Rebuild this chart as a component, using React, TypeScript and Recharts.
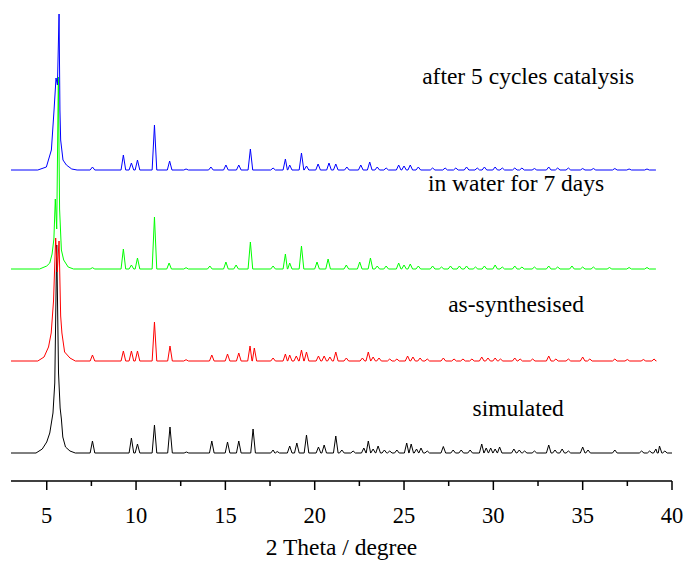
import React from 'react';
import { LineChart, Line, XAxis, YAxis, ReferenceDot } from 'recharts';

const SERIF = 'Liberation Serif';

// vertical offsets of each pattern (stacked plot)
const offsets = { simulated: 28, synth: 120, water: 212, cycles: 311 };
const traceEnd = { simulated: 40, synth: 39.1, water: 39.1, cycles: 39.1 };

// main low-angle reflection, [2theta, intensity]
const simulatedMain = [[4.4, 0], [4.75, 4], [5.0, 11], [5.17, 20], [5.35, 40], [5.45, 70], [5.56, 208], [5.66, 80], [5.75, 45], [5.82, 34], [5.9, 16], [6.05, 6], [6.3, 2], [6.6, 0]];
const synthMain = [[4.5, 0], [4.85, 4], [5.1, 14], [5.25, 28], [5.38, 60], [5.5, 123], [5.59, 89], [5.69, 120], [5.78, 45], [5.85, 28], [6.0, 9], [6.3, 3], [6.6, 0]];
const waterMain = [[4.6, 0], [5.0, 3], [5.17, 6], [5.3, 15], [5.4, 30], [5.48, 70], [5.56, 40], [5.65, 192], [5.72, 60], [5.82, 19], [5.95, 9], [6.2, 2], [6.5, 0]];
const cyclesMain = [[4.5, 0], [4.98, 3], [5.26, 20], [5.41, 60], [5.52, 92], [5.6, 85], [5.69, 156], [5.74, 60], [5.78, 30], [5.91, 10], [6.1, 5], [6.4, 1], [6.7, 0]];

// other reflections, [2theta, intensity]
const simulatedPeaks = [
  [7.56, 12], [9.74, 15], [10.08, 9], [11.03, 28], [11.9, 26], [12.82, 1], [14.24, 12], [15.12, 11], [15.75, 12], [16.55, 24],
  [17.67, 3], [17.9, 1.5], [18.6, 7], [19.0, 10], [19.54, 18], [20.21, 6], [20.53, 8], [21.18, 17], [21.52, 3], [22.15, 2],
  [22.75, 5], [23.0, 12], [23.27, 4], [23.55, 7], [23.9, 3], [24.2, 2], [24.6, 3], [25.15, 10], [25.4, 9], [25.7, 4],
  [25.95, 5], [26.3, 2], [27.2, 6.5], [27.75, 3], [28.2, 3], [28.7, 3], [29.35, 9], [29.6, 5], [29.85, 5], [30.1, 4],
  [30.35, 6], [31.15, 4], [31.45, 3], [31.75, 2], [32.3, 2], [33.1, 8], [33.45, 3], [33.85, 4], [34.2, 2], [35.0, 6],
  [35.3, 3], [36.8, 3], [38.3, 2], [38.75, 2], [39.1, 4], [39.3, 7], [39.6, 2],
];
const synthPeaks = [
  [7.56, 6], [9.29, 10], [9.74, 10], [10.08, 10], [11.03, 39], [11.9, 15], [12.8, 1.3], [14.24, 6], [15.12, 7], [15.75, 8],
  [16.38, 15], [16.62, 13], [17.67, 3], [18.36, 7], [18.6, 6], [18.97, 5], [19.26, 11], [19.54, 9], [20.21, 5], [20.53, 5],
  [20.85, 4], [21.18, 9], [21.77, 3], [22.67, 3], [23.0, 9], [23.27, 4], [23.6, 3], [24.2, 2], [24.6, 2], [25.2, 5],
  [25.5, 4], [25.9, 3], [26.3, 2], [27.2, 3], [27.8, 2], [28.3, 2], [28.8, 2], [29.35, 4], [29.7, 3], [30.1, 3],
  [30.4, 2], [31.2, 3], [31.5, 2], [32.2, 2], [33.1, 5], [33.5, 2], [34.2, 2], [35.0, 4], [35.4, 2], [36.8, 2],
  [37.5, 1.5], [38.4, 1.5], [39.0, 2],
];
const waterPeaks = [
  [7.56, 1.3], [9.29, 20], [9.74, 4], [10.08, 11], [11.03, 52], [11.85, 6], [12.8, 1.3], [14.13, 3], [15.03, 7], [15.6, 4],
  [16.4, 27], [17.67, 3], [18.36, 15], [18.6, 6], [19.26, 23], [20.13, 7], [20.75, 10], [21.77, 4], [22.52, 7], [23.12, 11],
  [23.5, 3], [24.0, 3], [24.7, 6], [25.0, 4], [25.35, 5], [25.8, 3], [26.6, 3], [27.1, 2], [27.6, 3], [28.1, 3],
  [28.5, 3], [29.0, 2], [29.5, 3], [30.1, 4], [30.5, 2], [31.2, 3], [31.6, 2], [32.3, 2], [33.1, 3], [33.6, 2],
  [34.4, 3], [35.0, 2], [35.6, 2], [36.5, 1.5], [37.6, 1.5], [38.6, 1.5],
];
const cyclesPeaks = [
  [7.56, 3], [9.29, 15], [9.74, 7], [10.08, 10], [11.03, 45], [11.88, 9], [12.8, 1], [14.19, 3], [15.03, 5], [15.75, 5],
  [16.4, 21], [17.67, 2], [18.36, 11], [18.6, 5], [19.26, 17], [19.54, 4], [20.19, 6], [20.8, 7], [21.18, 6], [21.8, 3],
  [22.58, 5], [23.08, 8], [23.5, 3], [24.0, 2], [24.7, 5], [25.0, 4], [25.35, 5], [25.8, 3], [26.6, 2], [27.3, 2],
  [27.9, 2], [28.5, 3], [29.1, 2], [29.5, 3], [30.1, 3], [30.5, 2], [31.2, 2], [31.6, 2], [32.3, 1.5], [33.1, 3],
  [33.6, 2], [34.2, 2], [35.0, 1.5], [35.6, 1.5], [36.8, 1.5], [37.6, 1], [38.6, 1],
];

const xTicks = [5, 7.5, 10, 12.5, 15, 17.5, 20, 22.5, 25, 27.5, 30, 32.5, 35, 37.5, 40];

const buildTrace = (main: number[][], peaks: number[][], offset: number, end: number) => {
  const pts: number[][] = [[3, 0], ...main, [end, 0]];
  peaks.forEach(([p, h]) => {
    pts.push([p - 0.13, 0], [p, h], [p + 0.13, 0]);
  });
  pts.sort((a, b) => a[0] - b[0]);
  return pts.map(([x, y]) => ({ x, y: y + offset }));
};

const simulatedData = buildTrace(simulatedMain, simulatedPeaks, offsets.simulated, traceEnd.simulated);
const synthData = buildTrace(synthMain, synthPeaks, offsets.synth, traceEnd.synth);
const waterData = buildTrace(waterMain, waterPeaks, offsets.water, traceEnd.water);
const cyclesData = buildTrace(cyclesMain, cyclesPeaks, offsets.cycles, traceEnd.cycles);

const AxisTick = (props: any) => {
  const { x, y, payload } = props;
  const major = payload.value % 5 === 0;
  return (
    <g>
      <line x1={x} x2={x} y1={y} y2={y + (major ? 9 : 5)} stroke="#000" strokeWidth={1.5} />
      {major && (
        <text x={x} y={y + 42} textAnchor="middle" style={{ fontFamily: SERIF, fontSize: 22.5 }} fill="#000">
          {payload.value}
        </text>
      )}
    </g>
  );
};

const traceLabel = (value: string) => ({ value, position: 'center' as const, fill: '#000', style: { fontFamily: SERIF, fontSize: 23.5 } });

const App = () => {
  return (
    <div style={{ position: 'absolute', left: 0, top: 0, width: 687, height: 563, background: '#fff', fontFamily: SERIF }}>
      <LineChart width={687} height={563} margin={{ top: 1, right: 15, bottom: 0, left: 11 }} style={{ fontFamily: SERIF }}>
        <XAxis
          dataKey="x"
          type="number"
          domain={[3, 40]}
          ticks={xTicks}
          interval={0}
          tickSize={0}
          tickMargin={0}
          tickLine={false}
          tick={<AxisTick />}
          height={82}
          axisLine={{ stroke: '#000', strokeWidth: 1.5 }}
          allowDataOverflow
          label={{ value: '2 Theta / degree', position: 'insideBottom', offset: 8, fill: '#000', style: { fontFamily: SERIF, fontSize: 23.5 } }}
        />
        <YAxis type="number" domain={[0, 480]} hide allowDataOverflow width={0} />
        <Line data={simulatedData} dataKey="y" type="linear" stroke="#000000" strokeWidth={1} dot={false} isAnimationActive={false} />
        <Line data={synthData} dataKey="y" type="linear" stroke="#ff0000" strokeWidth={1} dot={false} isAnimationActive={false} />
        <Line data={waterData} dataKey="y" type="linear" stroke="#00ff00" strokeWidth={1} dot={false} isAnimationActive={false} />
        <Line data={cyclesData} dataKey="y" type="linear" stroke="#0000ff" strokeWidth={1} dot={false} isAnimationActive={false} />
        <ReferenceDot x={31.95} y={405} r={1} fill="none" stroke="none" label={traceLabel('after 5 cycles catalysis')} />
        <ReferenceDot x={31.27} y={298} r={1} fill="none" stroke="none" label={traceLabel('in water for 7 days')} />
        <ReferenceDot x={31.27} y={177} r={1} fill="none" stroke="none" label={traceLabel('as-synthesised')} />
        <ReferenceDot x={31.39} y={73} r={1} fill="none" stroke="none" label={traceLabel('simulated')} />
      </LineChart>
    </div>
  );
};

export default App;
